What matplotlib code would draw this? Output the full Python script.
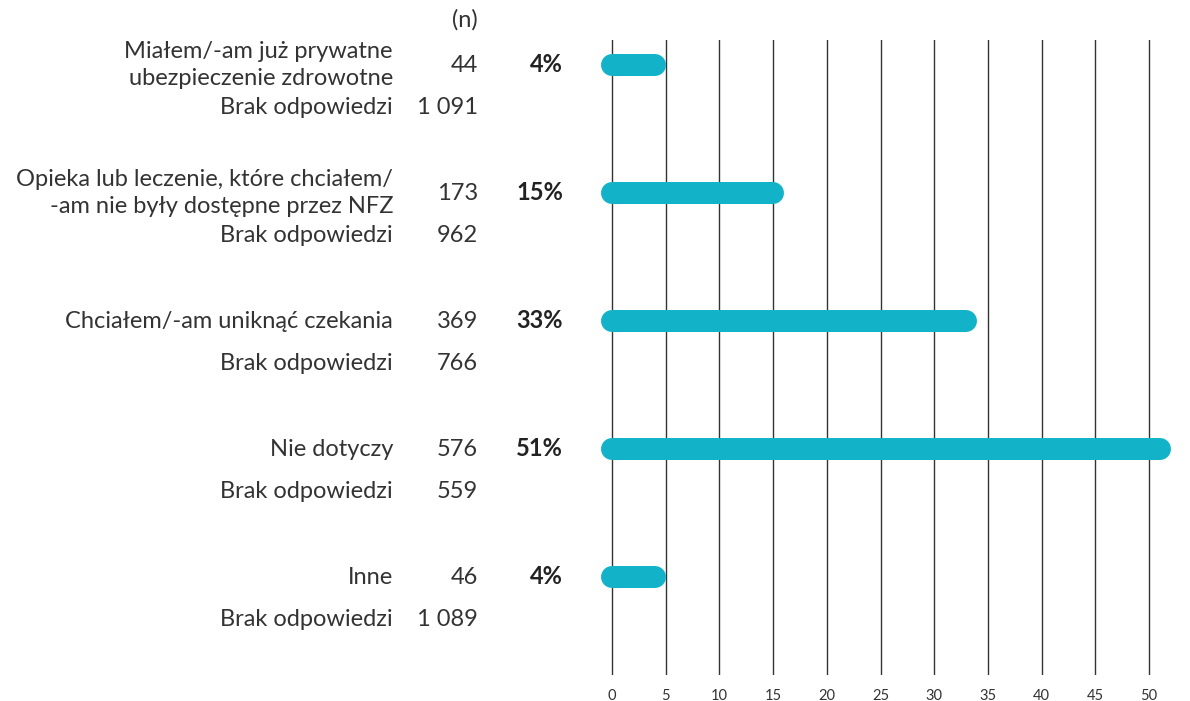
import matplotlib
matplotlib.use('Agg')
import matplotlib.pyplot as plt
from matplotlib.transforms import blended_transform_factory

# data
labels = [
    "Miałem/-am już prywatne\nubezpieczenie zdrowotne",
    "Opieka lub leczenie, które chciałem/\n-am nie były dostępne przez NFZ",
    "Chciałem/-am uniknąć czekania",
    "Nie dotyczy",
    "Inne",
]
n_values = ["44", "173", "369", "576", "46"]
no_answer_n = ["1 091", "962", "766", "559", "1 089"]
percents = [4, 15, 33, 51, 4]
no_answer_label = "Brak odpowiedzi"
x_ticks = [0, 5, 10, 15, 20, 25, 30, 35, 40, 45, 50]

bar_color = "#12b3c8"
text_color = "#333333"

plt.rcParams['font.family'] = ['Lato', 'DejaVu Sans']

W, H = 1190, 701
fig = plt.figure(figsize=(W / 100, H / 100), dpi=100)

# axes placed in pixel terms
ax_left, ax_right = 590, 1180
ax_top, ax_bottom = 40, 675
ax = fig.add_axes([ax_left / W, 1 - ax_bottom / H,
                   (ax_right - ax_left) / W, (ax_bottom - ax_top) / H])

px_per_unit = (1149 - 612) / 50.0
ax.set_xlim((ax_left - 612) / px_per_unit, (ax_right - 612) / px_per_unit)
row_gap = 128.0
first_row = 65
ax.set_ylim((ax_bottom - first_row) / row_gap, (ax_top - first_row) / row_gap)

for s in ax.spines.values():
    s.set_visible(False)
ax.set_yticks([])
ax.set_xticks(x_ticks)
ax.tick_params(axis='x', length=0, pad=10, labelsize=10.5, labelcolor=text_color)
ax.grid(axis='x', color='#333333', linewidth=1.0)
ax.set_axisbelow(True)

for i, p in enumerate(percents):
    ax.plot([0, p], [i, i], color=bar_color, linewidth=22 * 72 / 100,
            solid_capstyle='round', zorder=3)

trans = blended_transform_factory(fig.transFigure, ax.transData)
x_lab = 393 / W
x_n = 478 / W
x_pct = 563 / W
brak_off = 43 / row_gap
fs = 17.0

for i in range(len(labels)):
    ax.text(x_lab, i, labels[i], transform=trans, ha='right', va='center',
            multialignment='right', fontsize=fs, color=text_color, linespacing=1.4)
    ax.text(x_n, i, n_values[i], transform=trans, ha='right', va='center',
            fontsize=fs, color=text_color)
    ax.text(x_pct, i, "%d%%" % percents[i], transform=trans, ha='right', va='center',
            fontsize=fs, color='#222222', fontweight='bold')
    ax.text(x_lab, i + brak_off, no_answer_label, transform=trans, ha='right',
            va='center', fontsize=fs, color=text_color)
    ax.text(x_n, i + brak_off, no_answer_n[i], transform=trans, ha='right',
            va='center', fontsize=fs, color=text_color)

fig.text(x_n, 1 - 20 / H, "(n)", ha='right', va='center', fontsize=fs, color=text_color)

fig.savefig("out.png", dpi=100)
